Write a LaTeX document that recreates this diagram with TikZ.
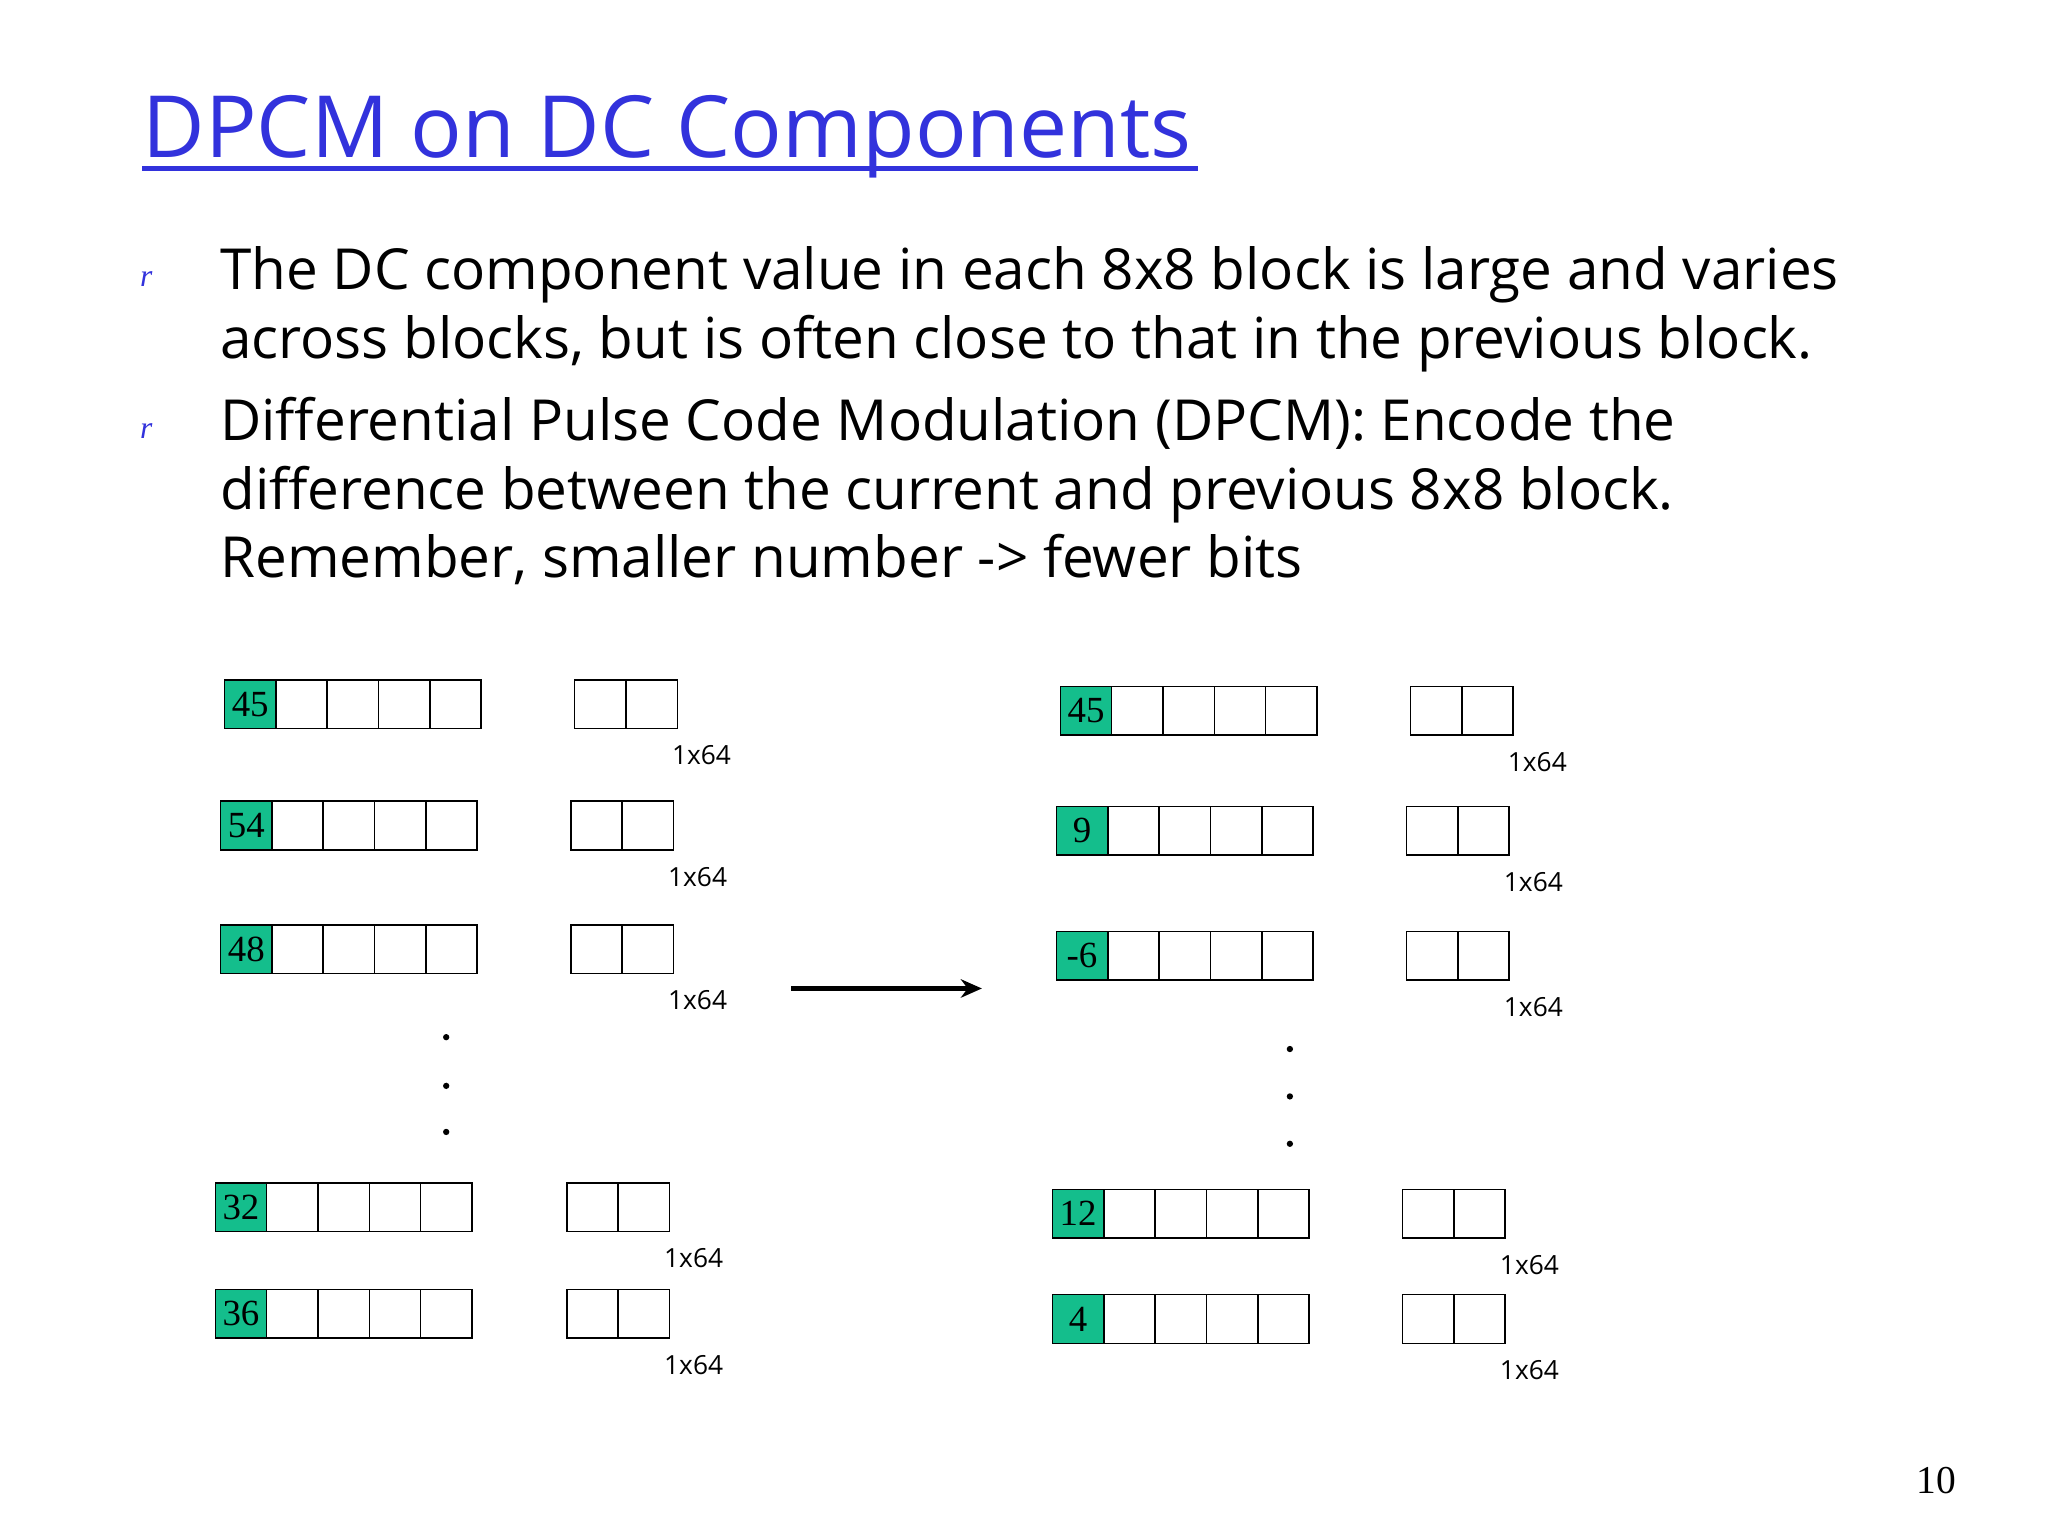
\documentclass[tikz,border=0pt]{standalone}
\usepackage{fontspec}
\setmainfont{Liberation Serif}
\newfontfamily\comic{Open Sans}
\usetikzlibrary{arrows.meta}
\definecolor{cellgreen}{RGB}{20,190,140}
\definecolor{titleblue}{RGB}{50,50,220}
\tikzset{
  cell/.style={draw=black,line width=0.6pt,minimum width=19.5pt,minimum height=18.5pt,anchor=north west,inner sep=0pt},
  dccell/.style={cell,fill=cellgreen,font=\fontsize{14}{14}\selectfont},
  lab/.style={font=\comic\fontsize{10}{10}\selectfont},
  body/.style={font=\comic\fontsize{21.5}{26}\selectfont,anchor=base west,inner sep=0pt},
  bul/.style={font=\itshape\fontsize{12}{12}\selectfont,text=titleblue,anchor=base west,inner sep=0pt}
}
\newcommand{\brow}[4]{%
  \node[dccell] (#4c0) at (#1,#2) {#3};
  \foreach \i in {1,...,4} {\node[cell] (#4c\i) at ({#1+39*\i},#2) {};}
}
\newcommand{\prow}[3]{%
  \node[cell] (#3p0) at (#1,#2) {};
  \node[cell] (#3p1) at ({#1+39},#2) {};
  \node[lab] (#3l) at ({#1+97},{#2+58}) {1x64};
}
\begin{document}
\begin{tikzpicture}[x=0.5pt,y=-0.5pt]
\useasboundingbox (0,0) rectangle (1556,1167);
\node[font=\comic\fontsize{32.6}{33}\selectfont,text=titleblue,anchor=base west,inner sep=0pt] (title) at (108,120) {DPCM on DC Components};
\draw[titleblue,line width=1.6pt] (108,128) -- (910,128);
\node[bul] (b1) at (106,218) {r};
\node[bul] (b2) at (106,333) {r};
\node[body] (t1) at (167,220) {The DC component value in each 8x8 block is large and varies};
\node[body] (t2) at (167,272) {across blocks, but is often close to that in the previous block.};
\node[body] (t3) at (167,335) {Differential Pulse Code Modulation (DPCM): Encode the};
\node[body] (t4) at (167,387) {difference between the current and previous 8x8 block.};
\node[body] (t5) at (167,439) {Remember, smaller number -> fewer bits};
\brow{170}{516}{45}{La}
\brow{167}{608}{54}{Lb}
\brow{167}{702}{48}{Lc}
\brow{163}{898}{32}{Ld}
\brow{163}{979}{36}{Le}
\prow{436}{516}{LPa}
\prow{433}{608}{LPb}
\prow{433}{702}{LPc}
\prow{430}{898}{LPd}
\prow{430}{979}{LPe}
\brow{805}{521}{45}{Ra}
\brow{802}{612}{9}{Rb}
\brow{802}{707}{-6}{Rc}
\brow{799}{903}{12}{Rd}
\brow{799}{983}{4}{Re}
\prow{1071}{521}{RPa}
\prow{1068}{612}{RPb}
\prow{1068}{707}{RPc}
\prow{1065}{903}{RPd}
\prow{1065}{983}{RPe}
\foreach \y in {788,825,860} {\fill (339,\y) circle (1.2pt);}
\foreach \y in {797,833,869} {\fill (980,\y) circle (1.2pt);}
\coordinate (as) at (601,751);
\coordinate (ae) at (746,751);
\draw[line width=2pt,-{Stealth[length=8pt,width=7pt]}] (as) -- (ae);
\node[font=\fontsize{15}{15}\selectfont] (pg) at (1471,1125) {10};
\end{tikzpicture}
\end{document}
